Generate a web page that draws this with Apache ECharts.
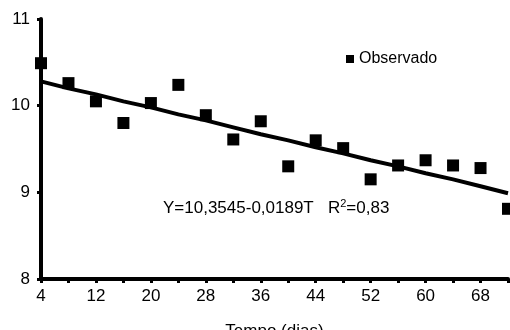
<!DOCTYPE html>
<html>
<head>
<meta charset="utf-8">
<script src="https://cdn.jsdelivr.net/npm/echarts@6/dist/echarts.min.js"></script>
<style>
html, body { margin: 0; padding: 0; background: #fff; }
#chart { width: 510px; height: 330px; }
</style>
</head>
<body>
<div id="chart"></div>
<script>
// tempo (dias)
var tempo = [4, 8, 12, 16, 20, 24, 28, 32, 36, 40, 44, 48, 52, 56, 60, 64, 68, 72];
// valores observados
var observado = [10.49, 10.26, 10.05, 9.80, 10.03, 10.24, 9.89, 9.61, 9.82, 9.30,
	9.60, 9.51, 9.15, 9.31, 9.37, 9.31, 9.28, 8.81];
// reta ajustada
var ajustado = [10.28, 10.20, 10.13, 10.05, 9.98, 9.90, 9.83, 9.75, 9.67, 9.60,
	9.52, 9.45, 9.37, 9.30, 9.22, 9.15, 9.07, 8.99];
var equacao = 'Y=10,3545-0,0189T   R';
var r2 = '=0,83';
var serieNome = 'Observado';
var eixoX = 'Tempo (dias)';

function pares(xs, ys) {
	var out = [];
	for (var i = 0; i < xs.length; i++) {
		out.push([xs[i], ys[i]]);
	}
	return out;
}

var myChart = echarts.init(document.getElementById('chart'));
var fonte = '"Liberation Sans", Arial, sans-serif';

var option = {
	animation: false,
	backgroundColor: '#fff',
	textStyle: { fontFamily: fonte },
	grid: { left: 41, right: 2, top: 19, bottom: 51, containLabel: false, outerBoundsMode: 'none' },
	legend: {
		data: [serieNome],
		left: 341,
		top: 46,
		icon: 'rect',
		itemWidth: 8,
		itemHeight: 8,
		itemGap: 4,
		itemStyle: { color: '#000', opacity: 1 },
		textStyle: { fontSize: 16, color: '#000', fontFamily: fonte }
	},
	graphic: [{
		type: 'text',
		left: 163,
		top: 198,
		style: {
			text: '{a|' + equacao + '}{s|2}{a|' + r2 + '}',
			rich: {
				a: { fontSize: 17, fontFamily: fonte, fill: '#000', lineHeight: 20 },
				s: { fontSize: 11, fontFamily: fonte, fill: '#000', verticalAlign: 'top', lineHeight: 12 }
			}
		}
	}],
	xAxis: {
		type: 'value',
		min: 4,
		max: 72,
		interval: 4,
		name: eixoX,
		nameLocation: 'middle',
		nameGap: 44,
		nameTextStyle: { fontSize: 17, color: '#000' },
		axisLine: { lineStyle: { color: '#000', width: 4 } },
		axisTick: { length: 4, lineStyle: { color: '#000', width: 3 } },
		axisLabel: {
			fontSize: 17,
			color: '#000',
			margin: 9,
			formatter: function(v) {
				return (v - 4) % 8 === 0 && v < 72 ? String(v) : '';
			}
		},
		splitLine: { show: false }
	},
	yAxis: {
		type: 'value',
		min: 8,
		max: 11,
		interval: 1,
		axisLine: { show: true, lineStyle: { color: '#000', width: 4 } },
		axisTick: { show: true, length: 4, lineStyle: { color: '#000', width: 3 } },
		axisLabel: { fontSize: 17, color: '#000', margin: 11 },
		splitLine: { show: false }
	},
	series: [{
		name: 'Ajustado',
		type: 'line',
		data: pares(tempo, ajustado),
		symbol: 'none',
		lineStyle: { color: '#000', width: 4 },
		z: 2
	}, {
		name: serieNome,
		type: 'scatter',
		data: pares(tempo, observado),
		symbol: 'rect',
		symbolSize: 12,
		itemStyle: { color: '#000', opacity: 1 },
		clip: false,
		z: 3
	}]
};
myChart.setOption(option);
</script>
</body>
</html>
